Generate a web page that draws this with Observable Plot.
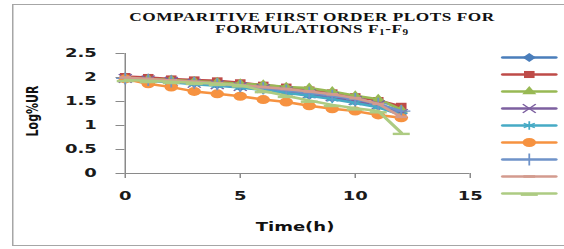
<!DOCTYPE html>
<html>
<head>
<meta charset="utf-8">
<script src="https://cdn.jsdelivr.net/npm/d3@7"></script>
<script src="https://cdn.jsdelivr.net/npm/@observablehq/plot@0.6"></script>
<style>
  html, body { margin: 0; padding: 0; background: #fff; overflow: hidden; width: 564px; height: 249px; }
  #wrap { position: absolute; left: 0; top: 0; width: 376px; height: 249px; transform: scaleX(1.5); transform-origin: 0 0; }
  #frame { position: absolute; left: 8px; top: 4px; width: 420px; height: 242px; border: 1px solid #a6a6a6; box-sizing: border-box; }
  .tl { position: absolute; left: 58px; width: 300px; text-align: center; font-family: "Liberation Serif", serif; font-weight: bold; font-size: 11.5px; line-height: 11.5px; letter-spacing: 0.35px; color: #111; white-space: nowrap; }
  #title1 { top: 12px; }
  #title2 { top: 24px; }
  .tl sub { font-size: 7.5px; line-height: 0; vertical-align: -2px; }
  #ylabel { position: absolute; left: 21.5px; top: 111px; transform: translate(-50%, -50%) rotate(-90deg); font-family: "DejaVu Sans", sans-serif; font-weight: bold; font-size: 11px; white-space: nowrap; color: #111; }
  #xlabel { position: absolute; left: 196.7px; top: 227px; transform: translate(-50%, -50%); font-family: "DejaVu Sans", sans-serif; font-weight: bold; font-size: 12px; white-space: nowrap; color: #111; }
  #chart { position: absolute; left: 0; top: 0; }
  #legend { position: absolute; left: 330px; top: 37px; }
</style>
</head>
<body>
<div id="wrap">
  <div id="frame"></div>
  <div id="chart"></div>
  <div id="legend"></div>
  <div class="tl" id="title1">COMPARITIVE FIRST ORDER PLOTS FOR</div>
  <div class="tl" id="title2">FORMULATIONS F<sub>1</sub>-F<sub>9</sub></div>
  <div id="ylabel">Log%UR</div>
  <div id="xlabel">Time(h)</div>
</div>
<script>
// ---- data ----
const hours = [0, 1, 2, 3, 4, 5, 6, 7, 8, 9, 10, 11, 12];
const seriesNames = ["F1", "F2", "F3", "F4", "F5", "F6", "F7", "F8", "F9"];
const f1 = [1.97, 1.94, 1.91, 1.88, 1.85, 1.80, 1.75, 1.70, 1.63, 1.57, 1.50, 1.40, 1.25];
const f2 = [2.02, 2.00, 1.97, 1.95, 1.93, 1.89, 1.84, 1.80, 1.74, 1.68, 1.60, 1.52, 1.40];
const f3 = [1.99, 1.97, 1.95, 1.92, 1.90, 1.87, 1.85, 1.80, 1.78, 1.71, 1.62, 1.55, 1.33];
const f4 = [1.98, 1.95, 1.92, 1.88, 1.85, 1.81, 1.77, 1.72, 1.66, 1.60, 1.52, 1.43, 1.25];
const f5 = [1.96, 1.93, 1.90, 1.86, 1.83, 1.79, 1.74, 1.68, 1.62, 1.55, 1.47, 1.38, 1.22];
const f6 = [1.97, 1.87, 1.80, 1.71, 1.66, 1.61, 1.54, 1.49, 1.41, 1.35, 1.30, 1.22, 1.16];
const f7 = [1.98, 1.95, 1.92, 1.89, 1.86, 1.82, 1.78, 1.73, 1.68, 1.62, 1.55, 1.45, 1.30];
const f8 = [2.00, 1.97, 1.94, 1.91, 1.88, 1.84, 1.80, 1.76, 1.71, 1.65, 1.57, 1.45, 1.18];
const f9 = [1.95, 1.93, 1.91, 1.89, 1.87, 1.84, 1.72, 1.62, 1.52, 1.43, 1.36, 1.30, 0.85];
const xTicks = [0, 5, 10, 15];
const yTicks = [0, 0.5, 1, 1.5, 2, 2.5];

// ---- styling ----
const values = [f1, f2, f3, f4, f5, f6, f7, f8, f9];
const colors = ["#4A7EBB", "#BE4B48", "#98B954", "#7D60A0", "#46AAC5", "#F69240", "#6F93C9", "#D39B8E", "#ADCB82"];
const dash = { draw(ctx, size) { const w = Math.sqrt(size) * 0.55; ctx.rect(-w, -1.3, 2 * w, 2.6); } };
const dashLong = { draw(ctx, size) { const w = Math.sqrt(size) * 0.8; ctx.rect(-w, 0, 2 * w, 2.4); } };
const symbols = ["diamond2", "square2", "triangle2", "times", "asterisk", "circle", "plus", dash, dashLong];
const filled = [true, true, true, false, false, true, false, true, true];
const radius = [4, 4.5, 4.5, 4, 4, 4.5, 4, 4, 4];

const rows = [];
seriesNames.forEach((s, i) => hours.forEach((t, j) => rows.push({ s, t, v: values[i][j] })));

const marks = [
  Plot.ruleY([0], { stroke: "#8a8a8a" }),
  Plot.ruleX([0], { y1: 0, y2: 2.5, stroke: "#8a8a8a" })
];
seriesNames.forEach((s, i) => {
  const d = rows.filter(r => r.s === s);
  marks.push(Plot.line(d, { x: "t", y: "v", stroke: colors[i], strokeWidth: 2.5 }));
  marks.push(Plot.dot(d, filled[i]
    ? { x: "t", y: "v", symbol: symbols[i], r: radius[i], fill: colors[i], stroke: "none" }
    : { x: "t", y: "v", symbol: symbols[i], r: radius[i], stroke: colors[i], strokeWidth: 1.2, fill: "none" }));
});

const chart = Plot.plot({
  width: 376, height: 249,
  marginLeft: 83, marginRight: 63, marginTop: 53, marginBottom: 76,
  x: { domain: [0, 15], ticks: xTicks, tickSize: 5, tickPadding: 13, tickFormat: d => String(d), label: null },
  y: { domain: [0, 2.5], ticks: yTicks, tickSize: 6, tickPadding: 13, tickFormat: d => String(d), label: null },
  style: { fontFamily: "DejaVu Sans, sans-serif", fontSize: "12px", fontWeight: "bold", background: "transparent", color: "#8a8a8a", overflow: "visible" },
  marks
});
d3.select(chart).selectAll("text").attr("fill", "#1a1a1a");
document.getElementById("chart").appendChild(chart);

// ---- legend ----
const legRows = [];
seriesNames.forEach(s => [0, 1].forEach(x => legRows.push({ s, x })));
const legMarks = [];
seriesNames.forEach((s, i) => {
  legMarks.push(Plot.line(legRows.filter(r => r.s === s), { x: "x", y: "s", stroke: colors[i], strokeWidth: 2.5 }));
  const m = [{ s, x: 0.5 }];
  legMarks.push(Plot.dot(m, filled[i]
    ? { x: "x", y: "s", symbol: symbols[i], r: radius[i], fill: colors[i], stroke: "none" }
    : { x: "x", y: "s", symbol: symbols[i], r: radius[i], stroke: colors[i], strokeWidth: 1.2, fill: "none" }));
});
const legend = Plot.plot({
  width: 44, height: 176,
  marginLeft: 4.7, marginRight: 4, marginTop: 10, marginBottom: 10,
  x: { domain: [0, 1], axis: null },
  y: { type: "point", domain: seriesNames, axis: null },
  style: { background: "transparent", overflow: "visible" },
  marks: legMarks
});
document.getElementById("legend").appendChild(legend);
</script>
</body>
</html>
